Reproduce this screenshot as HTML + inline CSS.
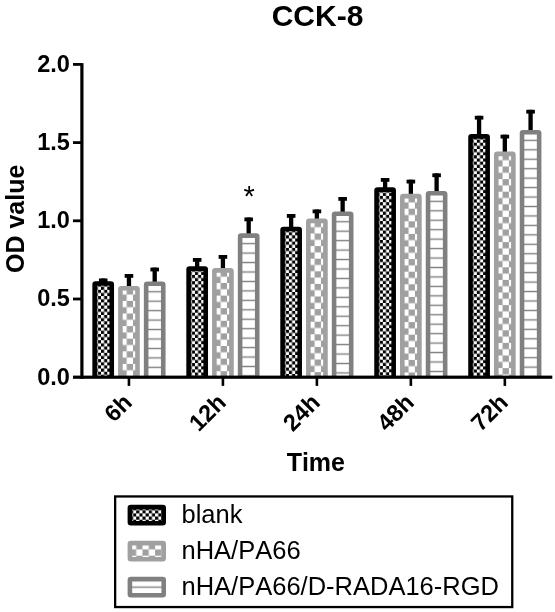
<!DOCTYPE html>
<html><head><meta charset="utf-8"><title>CCK-8</title>
<style>
html,body{margin:0;padding:0;background:#fff}
svg{display:block}
text{font-kerning:none;font-family:"Liberation Sans",Arial,sans-serif;fill:#000}
.b{font-weight:bold}
</style></head><body>
<svg width="555" height="612" viewBox="0 0 555 612">
<defs>
<pattern id="p1" patternUnits="userSpaceOnUse" x="0" y="0" width="6.3" height="6.3">
<rect width="6.3" height="6.3" fill="#fff"/><rect x="3.15" y="0" width="3.15" height="3.15" fill="#000"/><rect x="0" y="3.15" width="3.15" height="3.15" fill="#000"/></pattern>
<pattern id="p2" patternUnits="userSpaceOnUse" x="0" y="0" width="12.6" height="12.6">
<rect width="12.6" height="12.6" fill="#fff"/><rect x="6.3" y="0" width="6.3" height="6.3" fill="#a0a0a0"/><rect x="0" y="6.3" width="6.3" height="6.3" fill="#a0a0a0"/></pattern>
<pattern id="p3" patternUnits="userSpaceOnUse" x="0" y="0" width="40" height="9.45">
<rect width="40" height="9.45" fill="#fff"/><rect x="0" y="7.35" width="40" height="1.4" fill="#808080"/></pattern>
<clipPath id="cp"><rect x="0" y="0" width="555" height="377"/></clipPath>
</defs>
<rect width="555" height="612" fill="#fff"/>
<g style="filter:blur(0.4px)">

<text class="b" transform="translate(317.50,26.30) scale(0.25)" font-size="120" text-anchor="middle">CCK-8</text>
<g clip-path="url(#cp)">
<rect x="101.05" y="278.50" width="4.3" height="5.00" fill="#000"/>
<rect x="98.90" y="278.50" width="8.6" height="3.8" fill="#000"/>
<g transform="translate(94.65,283.50)"><rect x="0" y="0" width="17.10" height="101.50" rx="1" ry="1" fill="url(#p1)" stroke="#000" stroke-width="4.6" stroke-linejoin="round"/></g>
<rect x="126.80" y="274.00" width="4.3" height="14.30" fill="#000"/>
<rect x="124.65" y="274.00" width="8.6" height="3.8" fill="#000"/>
<g transform="translate(120.40,288.30)"><rect x="0" y="0" width="17.10" height="96.70" rx="1" ry="1" fill="url(#p2)" stroke="#a0a0a0" stroke-width="4.6" stroke-linejoin="round"/></g>
<rect x="152.55" y="267.60" width="4.3" height="16.10" fill="#000"/>
<rect x="150.40" y="267.60" width="8.6" height="3.8" fill="#000"/>
<g transform="translate(146.15,283.70)"><rect x="0" y="0" width="17.10" height="101.30" rx="1" ry="1" fill="url(#p3)" stroke="#808080" stroke-width="4.6" stroke-linejoin="round"/></g>
<rect x="195.02" y="258.00" width="4.3" height="10.60" fill="#000"/>
<rect x="192.87" y="258.00" width="8.6" height="3.8" fill="#000"/>
<g transform="translate(188.62,268.60)"><rect x="0" y="0" width="17.10" height="116.40" rx="1" ry="1" fill="url(#p1)" stroke="#000" stroke-width="4.6" stroke-linejoin="round"/></g>
<rect x="220.77" y="255.00" width="4.3" height="15.40" fill="#000"/>
<rect x="218.62" y="255.00" width="8.6" height="3.8" fill="#000"/>
<g transform="translate(214.37,270.40)"><rect x="0" y="0" width="17.10" height="114.60" rx="1" ry="1" fill="url(#p2)" stroke="#a0a0a0" stroke-width="4.6" stroke-linejoin="round"/></g>
<rect x="246.52" y="217.50" width="4.3" height="18.10" fill="#000"/>
<rect x="244.37" y="217.50" width="8.6" height="3.8" fill="#000"/>
<g transform="translate(240.12,235.60)"><rect x="0" y="0" width="17.10" height="149.40" rx="1" ry="1" fill="url(#p3)" stroke="#808080" stroke-width="4.6" stroke-linejoin="round"/></g>
<rect x="288.99" y="214.00" width="4.3" height="15.00" fill="#000"/>
<rect x="286.84" y="214.00" width="8.6" height="3.8" fill="#000"/>
<g transform="translate(282.59,229.00)"><rect x="0" y="0" width="17.10" height="156.00" rx="1" ry="1" fill="url(#p1)" stroke="#000" stroke-width="4.6" stroke-linejoin="round"/></g>
<rect x="314.74" y="209.50" width="4.3" height="11.40" fill="#000"/>
<rect x="312.59" y="209.50" width="8.6" height="3.8" fill="#000"/>
<g transform="translate(308.34,220.90)"><rect x="0" y="0" width="17.10" height="164.10" rx="1" ry="1" fill="url(#p2)" stroke="#a0a0a0" stroke-width="4.6" stroke-linejoin="round"/></g>
<rect x="340.49" y="197.00" width="4.3" height="16.70" fill="#000"/>
<rect x="338.34" y="197.00" width="8.6" height="3.8" fill="#000"/>
<g transform="translate(334.09,213.70)"><rect x="0" y="0" width="17.10" height="171.30" rx="1" ry="1" fill="url(#p3)" stroke="#808080" stroke-width="4.6" stroke-linejoin="round"/></g>
<rect x="382.96" y="178.00" width="4.3" height="11.60" fill="#000"/>
<rect x="380.81" y="178.00" width="8.6" height="3.8" fill="#000"/>
<g transform="translate(376.56,189.60)"><rect x="0" y="0" width="17.10" height="195.40" rx="1" ry="1" fill="url(#p1)" stroke="#000" stroke-width="4.6" stroke-linejoin="round"/></g>
<rect x="408.71" y="179.70" width="4.3" height="16.40" fill="#000"/>
<rect x="406.56" y="179.70" width="8.6" height="3.8" fill="#000"/>
<g transform="translate(402.31,196.10)"><rect x="0" y="0" width="17.10" height="188.90" rx="1" ry="1" fill="url(#p2)" stroke="#a0a0a0" stroke-width="4.6" stroke-linejoin="round"/></g>
<rect x="434.46" y="173.40" width="4.3" height="19.90" fill="#000"/>
<rect x="432.31" y="173.40" width="8.6" height="3.8" fill="#000"/>
<g transform="translate(428.06,193.30)"><rect x="0" y="0" width="17.10" height="191.70" rx="1" ry="1" fill="url(#p3)" stroke="#808080" stroke-width="4.6" stroke-linejoin="round"/></g>
<rect x="476.93" y="115.80" width="4.3" height="20.60" fill="#000"/>
<rect x="474.78" y="115.80" width="8.6" height="3.8" fill="#000"/>
<g transform="translate(470.53,136.40)"><rect x="0" y="0" width="17.10" height="248.60" rx="1" ry="1" fill="url(#p1)" stroke="#000" stroke-width="4.6" stroke-linejoin="round"/></g>
<rect x="502.68" y="134.70" width="4.3" height="19.20" fill="#000"/>
<rect x="500.53" y="134.70" width="8.6" height="3.8" fill="#000"/>
<g transform="translate(496.28,153.90)"><rect x="0" y="0" width="17.10" height="231.10" rx="1" ry="1" fill="url(#p2)" stroke="#a0a0a0" stroke-width="4.6" stroke-linejoin="round"/></g>
<rect x="528.43" y="109.80" width="4.3" height="22.50" fill="#000"/>
<rect x="526.28" y="109.80" width="8.6" height="3.8" fill="#000"/>
<g transform="translate(522.03,132.30)"><rect x="0" y="0" width="17.10" height="252.70" rx="1" ry="1" fill="url(#p3)" stroke="#808080" stroke-width="4.6" stroke-linejoin="round"/></g>
</g>
<rect x="80.3" y="63.1" width="3.2" height="315.70" fill="#000"/>
<rect x="73" y="375.6" width="479.30" height="3.2" fill="#000"/>
<rect x="73" y="63.00" width="8" height="2.8" fill="#000"/>
<text class="b" transform="translate(69.80,71.80) scale(0.25)" font-size="94" text-anchor="end">2.0</text>
<rect x="73" y="141.20" width="8" height="2.8" fill="#000"/>
<text class="b" transform="translate(69.80,150.00) scale(0.25)" font-size="94" text-anchor="end">1.5</text>
<rect x="73" y="219.40" width="8" height="2.8" fill="#000"/>
<text class="b" transform="translate(69.80,228.20) scale(0.25)" font-size="94" text-anchor="end">1.0</text>
<rect x="73" y="297.60" width="8" height="2.8" fill="#000"/>
<text class="b" transform="translate(69.80,306.40) scale(0.25)" font-size="94" text-anchor="end">0.5</text>
<text class="b" transform="translate(69.80,384.60) scale(0.25)" font-size="94" text-anchor="end">0.0</text>
<rect x="127.65" y="377" width="2.6" height="8.9" fill="#000"/>
<text class="b" transform="translate(133.45,403.90) rotate(-45) scale(0.25)" font-size="94" text-anchor="end">6h</text>
<rect x="221.62" y="377" width="2.6" height="8.9" fill="#000"/>
<text class="b" transform="translate(227.42,403.90) rotate(-45) scale(0.25)" font-size="94" text-anchor="end">12h</text>
<rect x="315.59" y="377" width="2.6" height="8.9" fill="#000"/>
<text class="b" transform="translate(321.39,403.90) rotate(-45) scale(0.25)" font-size="94" text-anchor="end">24h</text>
<rect x="409.56" y="377" width="2.6" height="8.9" fill="#000"/>
<text class="b" transform="translate(415.36,403.90) rotate(-45) scale(0.25)" font-size="94" text-anchor="end">48h</text>
<rect x="503.53" y="377" width="2.6" height="8.9" fill="#000"/>
<text class="b" transform="translate(509.33,403.90) rotate(-45) scale(0.25)" font-size="94" text-anchor="end">72h</text>
<text transform="translate(249.10,205.60) scale(0.25)" font-size="116" text-anchor="middle">*</text>
<text class="b" transform="translate(315.80,470.80) scale(0.25)" font-size="100" text-anchor="middle">Time</text>
<text class="b" transform="translate(23.60,218.80) rotate(-90) scale(0.25)" font-size="100" text-anchor="middle">OD value</text>
<rect x="115.15" y="496.45" width="397.1" height="110.6" fill="#fff" stroke="#000" stroke-width="2.3"/>
<g transform="translate(129.90,507.10)"><rect x="0" y="0" width="33.8" height="16.200000000000003" rx="1" ry="1" fill="url(#p1)" stroke="#000" stroke-width="4.6" stroke-linejoin="round"/></g>
<text transform="translate(181.50,523.30) scale(0.25)" font-size="102" text-anchor="start">blank</text>
<g transform="translate(129.90,543.10)"><rect x="0" y="0" width="33.8" height="16.200000000000003" rx="1" ry="1" fill="url(#p2)" stroke="#a0a0a0" stroke-width="4.6" stroke-linejoin="round"/></g>
<text transform="translate(181.50,559.20) scale(0.25)" font-size="102" text-anchor="start">nHA/PA66</text>
<g transform="translate(129.90,579.10)"><rect x="0" y="0" width="33.8" height="16.200000000000003" rx="1" ry="1" fill="url(#p3)" stroke="#808080" stroke-width="4.6" stroke-linejoin="round"/></g>
<text transform="translate(181.50,595.10) scale(0.25)" font-size="102" text-anchor="start">nHA/PA66/D-RADA16-RGD</text>
</g>
</svg></body></html>
